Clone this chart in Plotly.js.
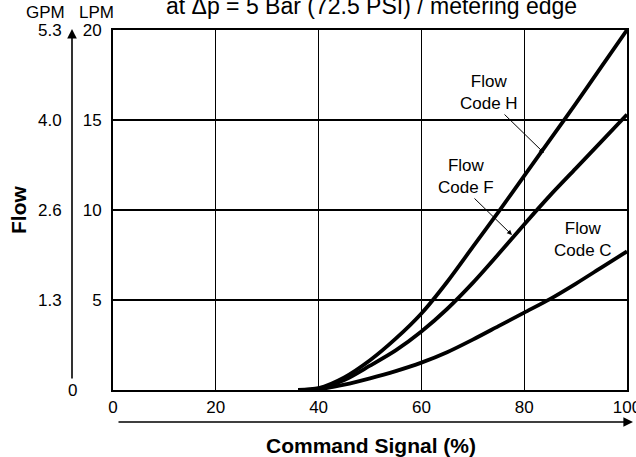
<!DOCTYPE html>
<html><head><meta charset="utf-8">
<script src="https://cdn.plot.ly/plotly-3.0.1.min.js"></script>
<style>html,body{margin:0;padding:0;background:#fff;}</style>
</head><body><div id="chart" style="width:636px;height:457px;"></div>
<script>
// Command signal (%)
const signal = [36, 40, 45, 50, 55, 60, 65, 70, 75, 80, 85, 90, 95, 100];
// Flow (LPM) per flow code
const flowH = [0, 0.1, 0.7, 1.65, 2.85, 4.25, 6.0, 7.95, 9.9, 11.9, 13.9, 15.9, 17.95, 20];
const flowF = [0, 0.08, 0.55, 1.35, 2.2, 3.25, 4.5, 5.95, 7.55, 9.2, 10.8, 12.3, 13.8, 15.3];
const flowC = [0, 0.04, 0.3, 0.65, 1.05, 1.52, 2.1, 2.8, 3.55, 4.3, 5.05, 5.9, 6.8, 7.7];
const xTicks = [0, 20, 40, 60, 80, 100];
const lpmTicks = [5, 10, 15, 20];
const gpmTicks = [1.3, 2.6, 4.0, 5.3];
const gpmLabels = ['1.3', '2.6', '4.0', '5.3'];

const FONT = 'Liberation Sans, Arial, Helvetica, sans-serif';
const lineStyle = {color: '#000', width: 3.8, shape: 'spline', smoothing: 0.8};

const traces = [
  {x: signal, y: flowH, mode: 'lines', line: lineStyle, name: 'Flow Code H', hoverinfo: 'skip'},
  {x: signal, y: flowF, mode: 'lines', line: lineStyle, name: 'Flow Code F', hoverinfo: 'skip'},
  {x: signal, y: flowC, mode: 'lines', line: lineStyle, name: 'Flow Code C', hoverinfo: 'skip'}
];

const W = 514, H = 360, L = 113, T = 30;
const px = v => (v - L) / W;          // pixel x -> paper
const py = v => (T + H - v) / H;      // pixel y -> paper

const ann = [];
// title
ann.push({text: 'at \u0394p = 5 Bar (72.5 PSI) / metering edge', xref: 'paper', yref: 'paper',
  x: px(371), y: py(6), xanchor: 'center', yanchor: 'middle', showarrow: false,
  font: {family: FONT, size: 23, color: '#000'}});
// unit headers
ann.push({text: 'GPM', xref: 'paper', yref: 'paper', x: px(45.5), y: py(13), xanchor: 'center', yanchor: 'middle', showarrow: false, font: {family: FONT, size: 17, color: '#000'}});
ann.push({text: 'LPM', xref: 'paper', yref: 'paper', x: px(96), y: py(13), xanchor: 'center', yanchor: 'middle', showarrow: false, font: {family: FONT, size: 17, color: '#000'}});
// GPM tick labels
gpmTicks.forEach((g, i) => {
  ann.push({text: gpmLabels[i], xref: 'paper', yref: 'y', x: px(64), y: lpmTicks[i], xanchor: 'right', yanchor: 'middle', showarrow: false, font: {family: FONT, size: 17, color: '#000'}});
});
ann.push({text: '0', xref: 'paper', yref: 'y', x: px(72), y: 0, xanchor: 'center', yanchor: 'middle', showarrow: false, font: {family: FONT, size: 17, color: '#000'}});
// vertical GPM arrow
ann.push({text: '', xref: 'paper', yref: 'paper', x: px(72), y: py(29), ax: 0, ay: 351, showarrow: true, arrowhead: 2, arrowsize: 1.2, arrowwidth: 1.6, arrowcolor: '#000'});
// horizontal command arrow
ann.push({text: '', xref: 'paper', yref: 'paper', x: px(633), y: py(422), ax: -516, ay: 0, showarrow: true, arrowhead: 2, arrowsize: 1.2, arrowwidth: 1.6, arrowcolor: '#000'});
// axis titles
ann.push({text: '<b>Flow</b>', xref: 'paper', yref: 'paper', x: px(18), y: py(210), textangle: -90, xanchor: 'center', yanchor: 'middle', showarrow: false, font: {family: FONT, size: 21, color: '#000'}});
ann.push({text: '<b>Command Signal (%)</b>', xref: 'paper', yref: 'paper', x: px(371), y: py(446), xanchor: 'center', yanchor: 'middle', showarrow: false, font: {family: FONT, size: 21, color: '#000'}});
// curve labels
const lab = (t, x, y) => ann.push({text: t, xref: 'paper', yref: 'paper', x: px(x), y: py(y), xanchor: 'center', yanchor: 'middle', showarrow: false, align: 'center', font: {family: FONT, size: 17, color: '#000'}});
lab('Flow<br>Code H', 489, 92);
lab('Flow<br>Code F', 466, 176);
lab('Flow<br>Code C', 583, 240);
// pointer arrows
ann.push({text: '', xref: 'paper', yref: 'paper', x: px(544), y: py(153), ax: -41, ay: -40, showarrow: true, arrowhead: 2, arrowsize: 1, arrowwidth: 1, arrowcolor: '#000'});
ann.push({text: '', xref: 'paper', yref: 'paper', x: px(512), y: py(235), ax: -39, ay: -38, showarrow: true, arrowhead: 2, arrowsize: 1, arrowwidth: 1, arrowcolor: '#000'});

const layout = {
  width: 636, height: 457,
  margin: {l: 113, r: 9, t: 30, b: 67, pad: 0},
  paper_bgcolor: '#fff', plot_bgcolor: '#fff',
  showlegend: false,
  font: {family: FONT, size: 17, color: '#000'},
  xaxis: {range: [0, 100], tickvals: xTicks, ticktext: xTicks.map(String), showgrid: true, gridcolor: '#000', gridwidth: 1.2,
    zeroline: false, showline: true, linecolor: '#000', linewidth: 2, mirror: true, ticks: '', ticklabelstandoff: 1,
    ticklabeloverflow: 'allow',
    tickfont: {family: FONT, size: 17, color: '#000'}, fixedrange: true},
  yaxis: {range: [0, 20], tickvals: lpmTicks, ticktext: lpmTicks.map(String), showgrid: true, gridcolor: '#000', gridwidth: 1.2,
    zeroline: false, showline: true, linecolor: '#000', linewidth: 2, mirror: true, ticks: '', ticklabelstandoff: 6,
    ticklabeloverflow: 'allow',
    tickfont: {family: FONT, size: 17, color: '#000'}, fixedrange: true},
  annotations: ann
};

Plotly.newPlot('chart', traces, layout, {staticPlot: true, displayModeBar: false});
</script>
</body></html>
